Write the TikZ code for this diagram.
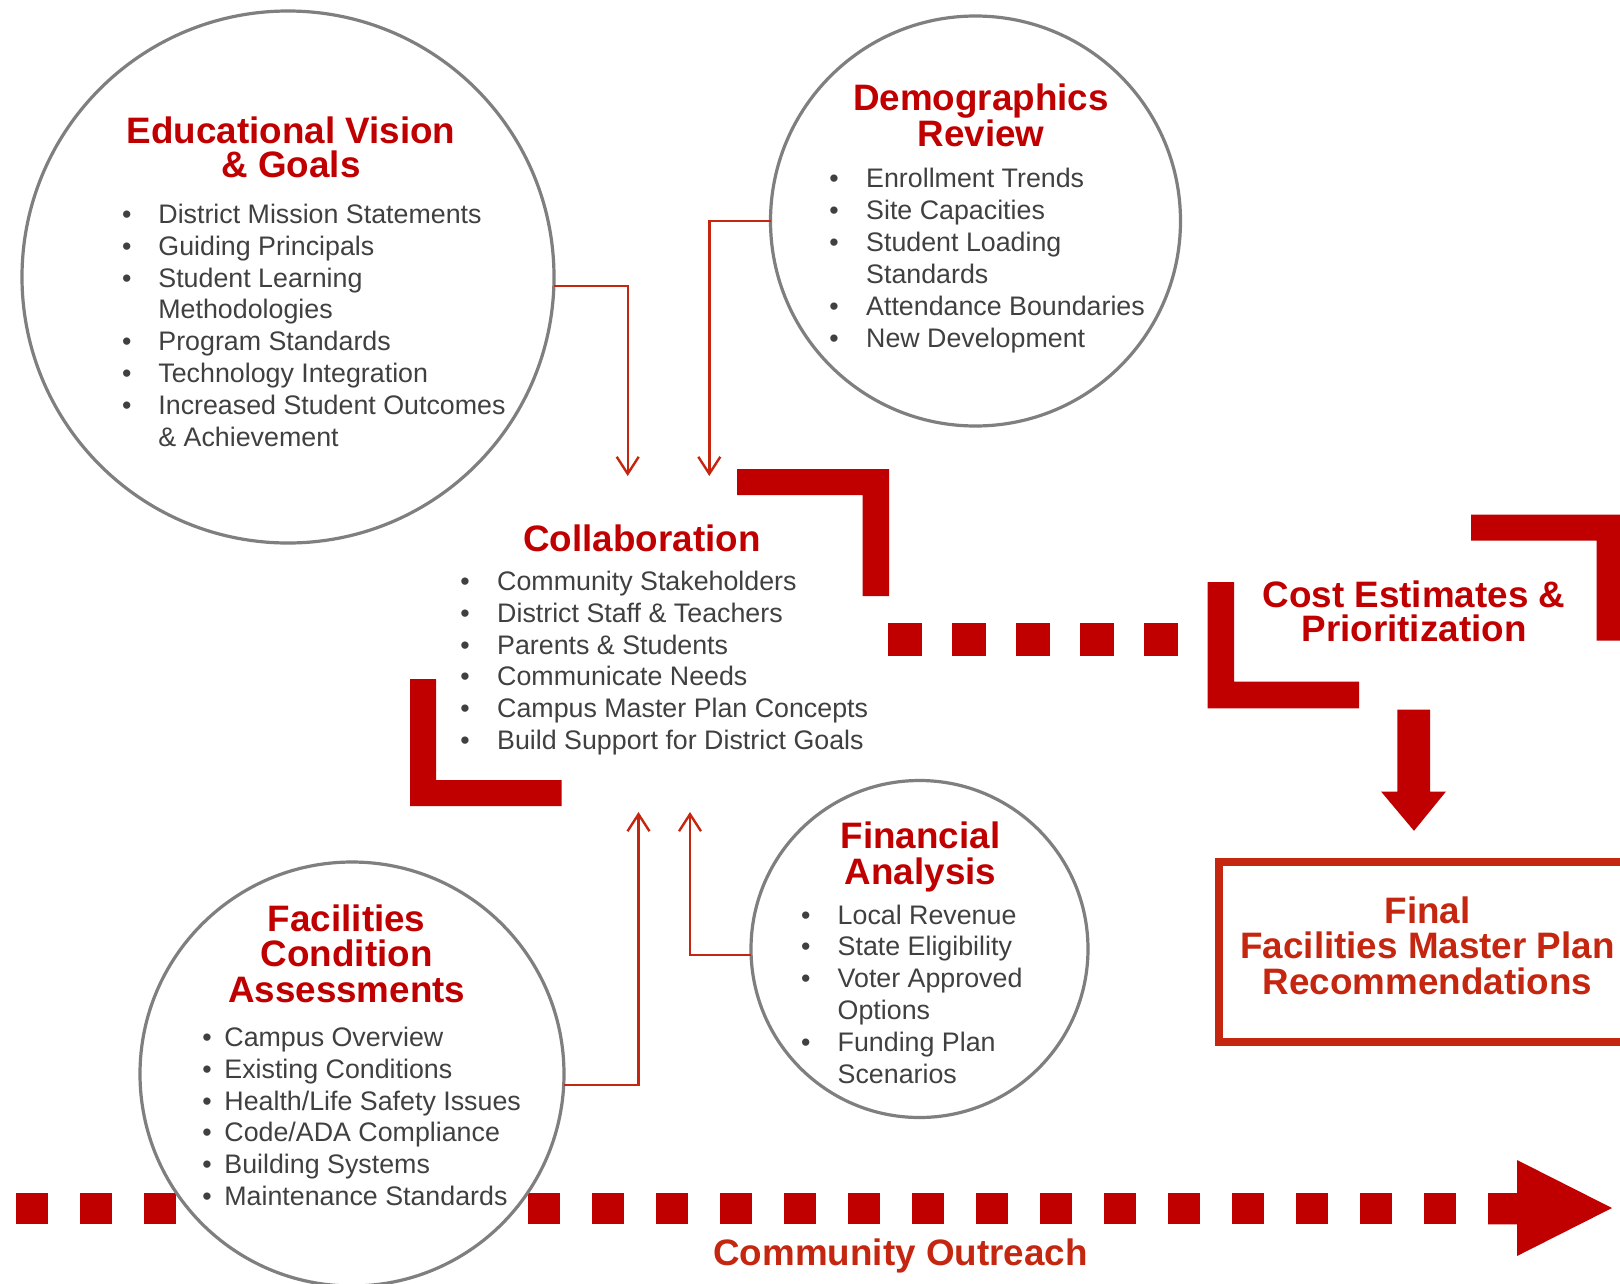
\documentclass[tikz,border=0pt]{standalone}
\usepackage{fontspec}
\setmainfont{Liberation Sans}
\usetikzlibrary{arrows.meta}
\definecolor{titlered}{HTML}{C00000}
\definecolor{brackred}{HTML}{C00000}
\definecolor{conred}{HTML}{C5260F}
\definecolor{txtgray}{HTML}{404040}
\definecolor{circgray}{HTML}{7F7F7F}
\newcommand\blitem[5]{%
  \node[bulnode] (#1b) at (#2,#4) {\textbullet};
  \node[bodytxt] (#1) at (#3,#4) {#5};}
\begin{document}
\begin{tikzpicture}[x=1pt,y=-1pt,
  circ/.style={circle, draw=circgray, line width=3.2pt, fill=white, inner sep=0pt, outer sep=0pt},
  ttl/.style={font=\bfseries\fontsize{36.8}{40}\selectfont, text=titlered, anchor=base, inner sep=0pt},
  ttlo/.style={ttl, text=conred},
  bodytxt/.style={font=\fontsize{26.8}{30}\selectfont, text=txtgray, anchor=base west, inner sep=0pt},
  bulnode/.style={font=\fontsize{26.8}{30}\selectfont, text=txtgray, anchor=base, inner sep=0pt},
  conn/.style={draw=conred, line width=2.4pt, -{Straight Barb[length=17pt,width=22pt]}},
  bar/.style={fill=brackred}]
\useasboundingbox (0,0) rectangle (1620,1283);
\fill[white] (0,0) rectangle (1620,1283);
\clip (0,0) rectangle (1620,1283);

% bottom dashed arrow (Community Outreach)
\foreach \k in {0,...,22} \fill[bar] ({15.5+64*\k},1193) rectangle ++(32,31.3);
\fill[bar] (1488,1193) -- (1517,1193) -- (1517,1160) -- (1612,1208) -- (1517,1256) -- (1517,1224.3) -- (1488,1224.3) -- cycle;

% middle dashed line
\foreach \k in {0,...,4} \fill[bar] ({887.7+64*\k},623.3) rectangle ++(34,32.4);

% brackets
\fill[bar] (737,469) -- (889,469) -- (889,596) -- (862.5,596) -- (862.5,495) -- (737,495) -- cycle;
\fill[bar] (410,679) -- (436,679) -- (436,780) -- (561.5,780) -- (561.5,806) -- (410,806) -- cycle;
\fill[bar] (1207.5,582) -- (1234,582) -- (1234,681.7) -- (1359,681.7) -- (1359,708.3) -- (1207.5,708.3) -- cycle;
\fill[bar] (1471,514.5) -- (1623,514.5) -- (1623,640.7) -- (1596.7,640.7) -- (1596.7,540.7) -- (1471,540.7) -- cycle;

% big down arrow
\fill[bar] (1397.3,709.7) -- (1430,709.7) -- (1430,791.5) -- (1446,791.5) -- (1414,830.8) -- (1381,791.5) -- (1397.3,791.5) -- cycle;

% circles
\node[circ, minimum size=532pt] (ev) at (288,277) {};
\node[circ, minimum size=410pt] (dr) at (975.5,221) {};
\node[circ, minimum size=424pt] (fc) at (352,1074) {};
\node[circ, minimum size=337pt] (fa) at (919.5,949) {};

% final box
\node[draw=conred, line width=8pt, minimum width=421pt, minimum height=179.5pt, anchor=north west, inner sep=0pt, outer sep=0pt] (finbox) at (1219,862) {};

% connectors
\coordinate (tipA) at (627.7,476);
\coordinate (tipB) at (709.3,476);
\coordinate (tipC) at (638.5,812);
\coordinate (tipD) at (690,812);
\draw[conn] (ev.-2.5) -| (tipA);
\draw[conn] (dr.west) -| (tipB);
\draw[conn] (fc.-3) -| (tipC);
\draw[conn] (fa.182) -| (tipD);

% Educational Vision
\node[ttl] (evt1) at (291,143) {Educational Vision};
\node[ttl] (evt2) at (291,177) {\& Goals};
\blitem{ev1}{126.8}{158.2}{223.2}{District Mission Statements}
\blitem{ev2}{126.8}{158.2}{255.1}{Guiding Principals}
\blitem{ev3}{126.8}{158.2}{287}{Student Learning}
\node[bodytxt] (ev3c) at (158.2,318.9) {Methodologies};
\blitem{ev4}{126.8}{158.2}{350.8}{Program Standards}
\blitem{ev5}{126.8}{158.2}{382.7}{Technology Integration}
\blitem{ev6}{126.8}{158.2}{414.6}{Increased Student Outcomes}
\node[bodytxt] (ev6c) at (158.2,446.5) {\& Achievement};

% Demographics
\node[ttl] (drt1) at (981,110) {Demographics};
\node[ttl] (drt2) at (981,146.7) {Review};
\blitem{dr1}{834}{866}{187.7}{Enrollment Trends}
\blitem{dr2}{834}{866}{219.6}{Site Capacities}
\blitem{dr3}{834}{866}{251.5}{Student Loading}
\node[bodytxt] (dr3c) at (866,283.4) {Standards};
\blitem{dr4}{834}{866}{315.3}{Attendance Boundaries}
\blitem{dr5}{834}{866}{347.2}{New Development}

% Collaboration
\node[ttl] (cot) at (642,551) {Collaboration};
\blitem{co1}{465}{497}{590.4}{Community Stakeholders}
\blitem{co2}{465}{497}{622.2}{District Staff \& Teachers}
\blitem{co3}{465}{497}{654}{Parents \& Students}
\blitem{co4}{465}{497}{685.8}{Communicate Needs}
\blitem{co5}{465}{497}{717.6}{Campus Master Plan Concepts}
\blitem{co6}{465}{497}{749.4}{Build Support for District Goals}

% Cost estimates
\node[ttl] (cet1) at (1414,607) {Cost Estimates \&};
\node[ttl] (cet2) at (1414,641.8) {Prioritization};

% Financial
\node[ttl] (fat1) at (920.5,848) {Financial};
\node[ttl] (fat2) at (920.5,884) {Analysis};
\blitem{fa1}{805.7}{837.5}{924}{Local Revenue}
\blitem{fa2}{805.7}{837.5}{955.9}{State Eligibility}
\blitem{fa3}{805.7}{837.5}{987.8}{Voter Approved}
\node[bodytxt] (fa3c) at (837.5,1019.7) {Options};
\blitem{fa4}{805.7}{837.5}{1051.6}{Funding Plan}
\node[bodytxt] (fa4c) at (837.5,1083.5) {Scenarios};

% Facilities
\node[ttl] (fct1) at (346.7,931.7) {Facilities};
\node[ttl] (fct2) at (346.7,966.7) {Condition};
\node[ttl] (fct3) at (346.7,1002.3) {Assessments};
\blitem{fc1}{207}{224.2}{1046.7}{Campus Overview}
\blitem{fc2}{207}{224.2}{1078.4}{Existing Conditions}
\blitem{fc3}{207}{224.2}{1110.1}{Health/Life Safety Issues}
\blitem{fc4}{207}{224.2}{1141.8}{Code/ADA Compliance}
\blitem{fc5}{207}{224.2}{1173.5}{Building Systems}
\blitem{fc6}{207}{224.2}{1205.2}{Maintenance Standards}

% Final
\node[ttlo] (fin1) at (1427.5,923.5) {Final};
\node[ttlo] (fin2) at (1427.5,958) {Facilities Master Plan};
\node[ttlo] (fin3) at (1427.5,994) {Recommendations};

% Community outreach
\node[ttlo] (cmo) at (900.5,1265) {Community Outreach};
\end{tikzpicture}
\end{document}
